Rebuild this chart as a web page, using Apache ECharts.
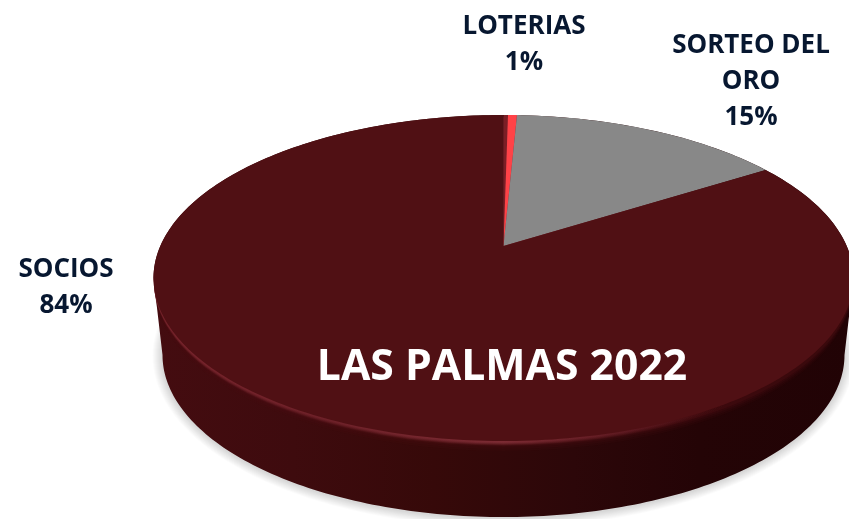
<!DOCTYPE html>
<html>
<head>
<meta charset="utf-8">
<style>html,body{margin:0;padding:0;background:#fff}#c{width:849px;height:519px}</style>
<script src="https://cdn.jsdelivr.net/npm/echarts@6/dist/echarts.min.js"></script>
</head>
<body>
<div id="c"></div>
<script>
// ---- data ----
const categories = ['', 'LOTERIAS', 'SORTEO DEL\nORO', 'SOCIOS'];
const values = [0.25, 0.5, 15.25, 84];
const title = 'LAS PALMAS 2022';
// ---- styles / layout ----
const colors = ['#7a1f26', '#ff4247', '#888888', '#501014'];
const labelCenters = [null, [524, 9], [751, 28], [66, 252]];
const textColor = '#071730';
const font = '"Open Sans"';
const view = { cx: 503.5, apexY: 246, topY: 115, botY: 441, rx: 350 };
const wall = { cx: 503.5, cy: 355, rx: 341, ry: 162 };

const k = -((view.botY - view.apexY) - (view.apexY - view.topY)) / ((view.botY - view.apexY) + (view.apexY - view.topY));
const B = (view.apexY - view.topY) * (1 - k);
const A = view.rx * Math.sqrt(1 - k * k);
const faceC = (view.topY + view.botY) / 2;
const faceRy = (view.botY - view.topY) / 2;
// perspective projection of a point on the pie's circle (deg clockwise from 12 o'clock)
function project(deg) {
  const t = deg * Math.PI / 180, X = Math.sin(t), Y = -Math.cos(t), w = 1 + k * Y;
  return [view.cx + A * X / w, view.apexY + B * Y / w];
}
function arc(e, from, to) {
  const pts = [];
  for (let i = 0; i <= 160; i++) {
    const t = (from + (to - from) * i / 160) * Math.PI / 180;
    pts.push([e.cx + e.rx * Math.cos(t), e.cy + e.ry * Math.sin(t)]);
  }
  return pts;
}
const total = values.reduce((a, b) => a + b, 0);
let acc = 0;
const slices = values.map((v, i) => {
  const s = acc; acc += v;
  return { value: [i, s / total * 360, acc / total * 360, v] };
});
const face = { cx: view.cx, cy: faceC, rx: view.rx, ry: faceRy };

function grad(stops) {
  return new echarts.graphic.LinearGradient(0, 0, 1, 0, stops.map(s => ({ offset: s[0], color: s[1] })));
}
function shifted(d) {
  return { type: 'polygon',
    shape: { points: arc({ cx: face.cx, cy: face.cy + d, rx: face.rx - d * 0.12, ry: face.ry }, 0, 360) } };
}

const option = {
  animation: false,
  backgroundColor: '#ffffff',
  title: {
    text: title, left: 497, top: 341, textAlign: 'center',
    textStyle: { fontFamily: font, fontSize: 42.7, fontWeight: 700, color: '#ffffff' }
  },
  series: [
    { // soft drop shadow under the pie
      type: 'custom', coordinateSystem: 'none', silent: true, z: 0,
      data: [0],
      renderItem: function () {
        const layers = [];
        for (let d = 10; d >= 1; d--) {
          layers.push({ type: 'polygon',
            shape: { points: arc({ cx: wall.cx, cy: wall.cy + 1, rx: wall.rx + d, ry: wall.ry + d * 0.9 }, 0, 360) },
            style: { fill: 'rgba(0,0,0,0.016)' } });
        }
        return { type: 'group', children: layers };
      }
    },
    { // pie thickness
      type: 'custom', coordinateSystem: 'none', silent: true, z: 1,
      data: [0],
      renderItem: function () {
        const outline = arc(wall, 0, 180).concat(arc(face, 180, 360));
        return {
          type: 'polygon', shape: { points: outline },
          style: {
            fill: grad([[0, '#440c10'], [0.2, '#3e0b0e'], [0.4, '#360909'], [0.6, '#2c0709'], [0.78, '#240406'], [1, '#210305']])
          }
        };
      }
    },
    { // soft edge between face and wall: stacked shifted copies of the face outline
      type: 'custom', coordinateSystem: 'none', silent: true, z: 2,
      data: [0],
      renderItem: function () {
        const layers = [];
        [[10, 0.1], [8, 0.14], [6, 0.2], [4, 0.3]].forEach(l => {
          const el = shifted(l[0]);
          el.style = { fill: 'rgba(80,16,20,' + l[1] + ')' };
          layers.push(el);
        });
        [[4.5, 0.3], [3.5, 0.5], [2.5, 0.8], [1.5, 1]].forEach(l => {
          const el = shifted(l[0]);
          el.style = { opacity: l[1], fill: grad([[0, 'rgba(120,36,44,0.8)'], [0.25, 'rgba(112,34,42,0.7)'], [0.5, 'rgba(125,44,52,0.8)'], [0.68, 'rgba(100,28,36,0.5)'], [0.82, 'rgba(80,16,20,0)'], [1, 'rgba(80,16,20,0)']]) };
          layers.push(el);
        });
        return { type: 'group', children: layers };
      }
    },
    { // pie top face
      type: 'custom', coordinateSystem: 'none', silent: true, z: 3,
      data: slices,
      renderItem: function (params, api) {
        const s = api.value(1), e = api.value(2), i = api.value(0);
        const pts = [[view.cx, view.apexY]];
        const n = Math.max(2, Math.ceil(e - s));
        for (let j = 0; j <= n; j++) pts.push(project(s + (e - s) * j / n));
        return { type: 'polygon', shape: { points: pts }, style: { fill: colors[i] } };
      }
    },
    { // labels
      type: 'custom', coordinateSystem: 'none', silent: true, z: 5,
      data: slices,
      renderItem: function (params, api) {
        const i = api.value(0);
        if (!categories[i]) return null;
        const pct = Math.round(api.value(3) / total * 100);
        return {
          type: 'text', x: labelCenters[i][0], y: labelCenters[i][1],
          style: {
            text: categories[i] + '\n' + pct + '%',
            fill: textColor, font: '700 26px ' + font,
            align: 'center', verticalAlign: 'top', lineHeight: 36
          }
        };
      }
    }
  ]
};
const chart = echarts.init(document.getElementById('c'), null, { renderer: 'canvas' });
chart.setOption(option);
</script>
</body>
</html>
